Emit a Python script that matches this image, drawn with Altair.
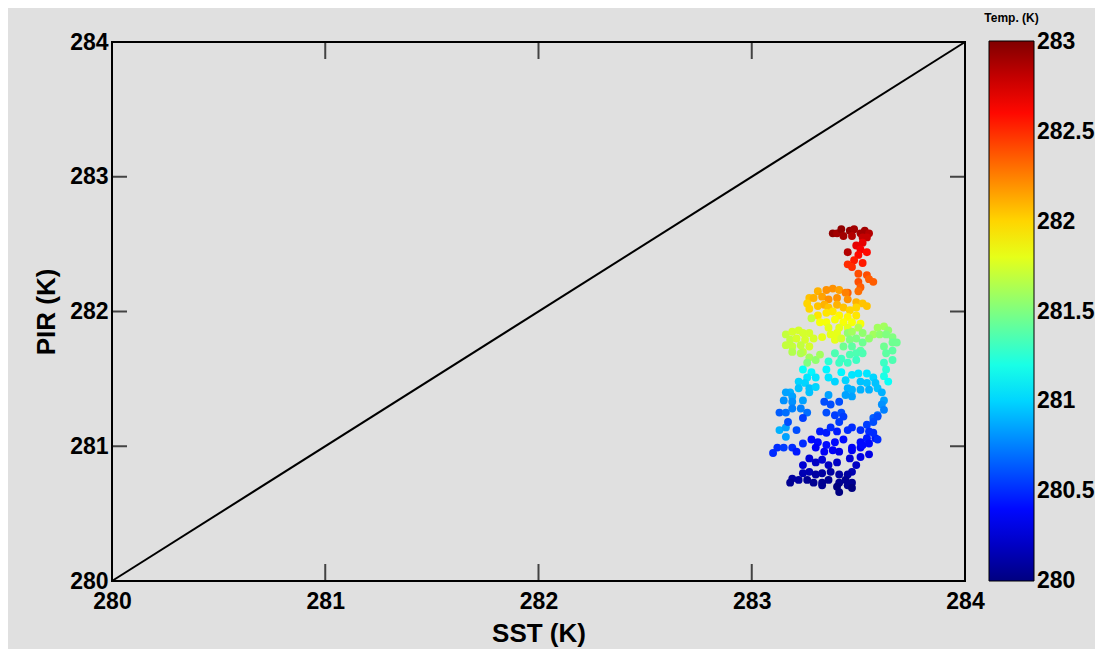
import altair as alt
import pandas as pd

# Scatter data (SST, PIR, colour temperature)
sst = [283.38, 283.40, 283.42, 283.43, 283.46, 283.48, 283.47, 283.51, 283.53, 283.55, 283.52, 283.54,
       283.49, 283.52, 283.51, 283.54, 283.50, 283.45, 283.48, 283.52, 283.45, 283.47,
       283.50, 283.54, 283.55, 283.57, 283.50, 283.51, 283.50, 283.45,
       283.38, 283.41, 283.35, 283.31, 283.27, 283.29, 283.33, 283.36, 283.40, 283.44, 283.45, 283.49, 283.52, 283.54,
       283.26, 283.27, 283.31, 283.34, 283.36, 283.40, 283.43, 283.46, 283.49,
       283.31, 283.35, 283.38, 283.41, 283.45, 283.49, 283.28,
       283.32, 283.35, 283.39, 283.43, 283.47, 283.51, 283.36, 283.41, 283.45, 283.33, 283.37, 283.40, 283.39, 283.42,
       283.16, 283.19, 283.22, 283.24, 283.27, 283.18, 283.21, 283.25, 283.29, 283.16, 283.19, 283.23, 283.27, 283.19, 283.24,
       283.45, 283.47, 283.50, 283.52, 283.46, 283.49, 283.52, 283.43, 283.47, 283.51,
       283.59, 283.62, 283.64, 283.57, 283.60, 283.63, 283.66, 283.66, 283.68, 283.62, 283.66, 283.55,
       283.23, 283.27, 283.30, 283.26, 283.32,
       283.39, 283.42, 283.46, 283.49, 283.52, 283.41, 283.45, 283.49, 283.36,
       283.63, 283.66, 283.62, 283.63, 283.62, 283.64,
       283.24, 283.28, 283.26, 283.30, 283.22, 283.25, 283.22, 283.27, 283.18, 283.16, 283.19, 283.15, 283.19, 283.24, 283.27, 283.30,
       283.35, 283.36, 283.39, 283.42, 283.44, 283.47, 283.50, 283.54, 283.57, 283.51, 283.54, 283.58,
       283.45, 283.47, 283.51, 283.55, 283.59, 283.61, 283.62, 283.44, 283.47, 283.36,
       283.13, 283.16, 283.19, 283.23, 283.26, 283.34, 283.37, 283.41, 283.35, 283.39, 283.42, 283.61, 283.62, 283.59, 283.57,
       283.13, 283.16, 283.16, 283.21, 283.24, 283.17,
       283.10, 283.12, 283.15, 283.19, 283.21, 283.24,
       283.32, 283.35, 283.37, 283.41, 283.43, 283.40, 283.45, 283.47, 283.51, 283.54, 283.57, 283.59, 283.55, 283.58, 283.54, 283.51, 283.47,
       283.28, 283.31, 283.35, 283.39, 283.43, 283.30, 283.34, 283.38, 283.41, 283.47, 283.51, 283.59, 283.57, 283.55,
       283.24, 283.27, 283.30, 283.33, 283.36, 283.40, 283.24, 283.27, 283.30, 283.33, 283.37, 283.41,
       283.19, 283.18, 283.22, 283.26, 283.29, 283.33, 283.36, 283.33,
       283.46, 283.49, 283.47, 283.45, 283.44, 283.41, 283.45, 283.47, 283.47, 283.41, 283.40, 283.51, 283.55, 283.52]
pir = [282.58, 282.58, 282.61, 282.56, 282.60, 282.61, 282.56, 282.58, 282.60, 282.58, 282.55, 282.55,
       282.49, 282.51, 282.46, 282.44, 282.42, 282.44, 282.38, 282.36, 282.35, 282.33,
       282.28, 282.27, 282.24, 282.22, 282.22, 282.18, 282.15, 282.14,
       282.17, 282.16, 282.16, 282.15, 282.10, 282.10, 282.11, 282.09, 282.10, 282.14, 282.09, 282.07, 282.06, 282.04,
       282.06, 282.02, 282.04, 282.05, 282.03, 282.05, 282.03, 282.01, 282.03,
       281.97, 281.99, 282.00, 281.97, 281.96, 281.97, 281.95,
       281.92, 281.92, 281.94, 281.92, 281.92, 281.91, 281.88, 281.88, 281.88, 281.81, 281.83, 281.84, 281.79, 281.80,
       281.83, 281.85, 281.86, 281.84, 281.84, 281.79, 281.80, 281.79, 281.80, 281.75, 281.74, 281.75, 281.74, 281.70, 281.70,
       281.84, 281.85, 281.88, 281.84, 281.79, 281.80, 281.77, 281.74, 281.74, 281.71,
       281.88, 281.89, 281.86, 281.83, 281.83, 281.83, 281.81, 281.77, 281.77, 281.74, 281.71, 281.80,
       281.69, 281.66, 281.64, 281.62, 281.68,
       281.69, 281.65, 281.68, 281.69, 281.69, 281.62, 281.62, 281.64, 281.63,
       281.69, 281.64, 281.62, 281.57, 281.52, 281.48,
       281.57, 281.55, 281.51, 281.51, 281.48, 281.47, 281.43, 281.43, 281.40, 281.40, 281.37, 281.34, 281.33, 281.34, 281.40, 281.44,
       281.57, 281.51, 281.48, 281.55, 281.49, 281.53, 281.54, 281.54, 281.51, 281.48, 281.47, 281.47,
       281.43, 281.42, 281.42, 281.42, 281.43, 281.40, 281.34, 281.38, 281.37, 281.38,
       281.25, 281.25, 281.28, 281.28, 281.25, 281.33, 281.31, 281.33, 281.25, 281.23, 281.25, 281.31, 281.27, 281.23, 281.21,
       281.12, 281.07, 281.14, 281.12, 281.21, 281.18,
       280.95, 280.99, 280.99, 280.99, 280.96, 281.02,
       281.11, 281.10, 281.14, 281.18, 281.22, 281.11, 281.12, 281.14, 281.12, 281.16, 281.18, 281.22, 281.11, 281.06, 281.06, 281.03, 280.99,
       281.05, 281.03, 281.01, 281.03, 281.05, 280.99, 280.96, 280.97, 280.96, 280.97, 280.99, 281.05, 281.10, 281.02,
       280.86, 280.91, 280.88, 280.90, 280.86, 280.88, 280.80, 280.81, 280.79, 280.80, 280.81, 280.79,
       280.76, 280.73, 280.75, 280.75, 280.73, 280.73, 280.75, 280.71,
       280.91, 280.86, 280.81, 280.79, 280.75, 280.73, 280.71, 280.73, 280.69, 280.66, 280.70, 280.92, 280.94, 281.01]
temp = [282.95, 282.9, 282.95, 282.9, 282.95, 282.9, 282.85, 282.9, 282.9, 282.85, 282.8, 282.8,
        282.7, 282.7, 282.65, 282.6, 282.6, 282.85, 282.55, 282.55, 282.5, 282.5,
        282.4, 282.4, 282.35, 282.35, 282.4, 282.35, 282.3, 282.35,
        282.2, 282.15, 282.2, 282.1, 282.05, 282.1, 282.15, 282.2, 282.2, 282.25, 282.2, 282.1, 282.05, 282.05,
        282.0, 282.0, 282.05, 282.1, 282.05, 282.1, 282.05, 282.0, 282.0,
        281.95, 281.95, 281.95, 281.9, 281.9, 281.95, 281.7,
        281.85, 281.85, 281.85, 281.85, 281.85, 281.85, 281.8, 281.8, 281.8, 281.8, 281.8, 281.8, 281.8, 281.75,
        281.7, 281.75, 281.75, 281.75, 281.75, 281.7, 281.75, 281.75, 281.75, 281.7, 281.7, 281.7, 281.75, 281.65, 281.7,
        281.55, 281.6, 281.65, 281.55, 281.5, 281.5, 281.45, 281.45, 281.4, 281.4,
        281.6, 281.6, 281.55, 281.6, 281.55, 281.5, 281.5, 281.45, 281.45, 281.45, 281.4, 281.55,
        281.65, 281.6, 281.55, 281.5, 281.6,
        281.35, 281.3, 281.35, 281.35, 281.35, 281.3, 281.3, 281.3, 281.25,
        281.4, 281.35, 281.3, 281.25, 281.2, 281.15,
        281.15, 281.1, 281.05, 281.05, 281.0, 281.0, 280.95, 280.95, 280.9, 280.85, 280.85, 280.8, 280.8, 280.85, 280.95, 281.0,
        281.1, 281.05, 281.0, 281.1, 281.0, 281.05, 281.05, 281.05, 281.0, 280.95, 280.95, 280.95,
        280.9, 280.9, 280.9, 280.9, 280.95, 280.9, 280.85, 280.85, 280.85, 280.85,
        280.65, 280.7, 280.75, 280.75, 280.7, 280.6, 280.6, 280.6, 280.6, 280.55, 280.6, 280.8, 280.75, 280.7, 280.65,
        280.9, 280.85, 280.85, 280.6, 280.55, 280.6,
        280.5, 280.5, 280.55, 280.5, 280.45, 280.5,
        280.45, 280.45, 280.5, 280.55, 280.55, 280.45, 280.5, 280.5, 280.5, 280.55, 280.6, 280.6, 280.5, 280.45, 280.45, 280.4, 280.35,
        280.4, 280.4, 280.4, 280.4, 280.4, 280.35, 280.35, 280.35, 280.3, 280.35, 280.35, 280.5, 280.5, 280.4,
        280.25, 280.25, 280.2, 280.25, 280.2, 280.2, 280.15, 280.15, 280.1, 280.1, 280.1, 280.1,
        280.1, 280.05, 280.1, 280.05, 280.05, 280.05, 280.05, 280.05,
        280.25, 280.2, 280.15, 280.1, 280.05, 280.05, 280.05, 280.05, 280.0, 280.0, 280.0, 280.3, 280.3, 280.4]

diag_x = [280, 284]
diag_y = [280, 284]
tick_vals = [281, 282, 283]
axis_vals = [280, 281, 282, 283, 284]
cbar_vals = [280, 280.5, 281, 281.5, 282, 282.5, 283]
cbar_labels = ["280", "280.5", "281", "281.5", "282", "282.5", "283"]
cbar_inner_ticks = [280.5, 281, 281.5, 282, 282.5]

# jet colormap stops
jet_domain = [280, 280.375, 281.125, 281.875, 282.625, 283]
jet_range = ["#000080", "#0000ff", "#00ffff", "#ffff00", "#ff0000", "#800000"]

W, H = 853, 539
CB_LEFT, CB_RIGHT = 877, 922   # colour bar edges, relative to plot origin
FONT = "Liberation Sans"
BG = "#e0e0e0"

pts = pd.DataFrame({"sst": sst, "pir": pir, "temp": temp})
diag = pd.DataFrame({"x": diag_x, "y": diag_y})
ticks = pd.DataFrame({"v": tick_vals})
cbar_df = pd.DataFrame({"v": cbar_vals, "label": cbar_labels})
cbar_tick_df = pd.DataFrame({"v": cbar_inner_ticks})

xscale = alt.Scale(domain=[280, 284], nice=False, zero=False)
yscale = alt.Scale(domain=[280, 284], nice=False, zero=False)
cscale = alt.Scale(domain=[280, 283], nice=False, zero=False)

xaxis = alt.Axis(values=axis_vals, format="d", title="SST (K)", ticks=False, domain=False, grid=False,
                 labelFlush=False, labelPadding=9, labelFontSize=23, labelFontWeight="bold",
                 labelColor="black", labelFont=FONT, titleFont=FONT, titleFontSize=26,
                 titleFontWeight="bold", titleColor="black", titlePadding=7)
yaxis = alt.Axis(values=axis_vals, format="d", title="PIR (K)", ticks=False, domain=False, grid=False,
                 labelFlush=False, labelPadding=4, labelFontSize=23, labelFontWeight="bold",
                 labelColor="black", labelFont=FONT, titleFont=FONT, titleFontSize=26,
                 titleFontWeight="bold", titleColor="black", titlePadding=10)

line = alt.Chart(diag).mark_line(color="black", strokeWidth=2).encode(
    x=alt.X("x:Q", scale=xscale, axis=xaxis),
    y=alt.Y("y:Q", scale=yscale, axis=yaxis),
)

points = alt.Chart(pts).mark_circle(size=62, opacity=1).encode(
    x=alt.X("sst:Q", scale=xscale),
    y=alt.Y("pir:Q", scale=yscale),
    color=alt.Color(
        "temp:Q",
        scale=alt.Scale(domain=jet_domain, range=jet_range, interpolate="rgb"),
        legend=alt.Legend(
            title=None, orient="none", legendX=CB_LEFT, legendY=-1, direction="vertical",
            gradientLength=540, gradientThickness=45, gradientStrokeColor="black",
            gradientStrokeWidth=1, values=cbar_vals, labelOpacity=0, labelFontSize=1,
        ),
    ),
)

xt_bottom = alt.Chart(ticks).mark_tick(color="black", thickness=2, size=17, yOffset=-8.5).encode(
    x=alt.X("v:Q", scale=xscale), y=alt.value(H))
xt_top = alt.Chart(ticks).mark_tick(color="black", thickness=2, size=17, yOffset=8.5).encode(
    x=alt.X("v:Q", scale=xscale), y=alt.value(0))
yt_left = alt.Chart(ticks).mark_tick(color="black", thickness=2, size=15, xOffset=7.5).encode(
    y=alt.Y("v:Q", scale=yscale), x=alt.value(0))
yt_right = alt.Chart(ticks).mark_tick(color="black", thickness=2, size=15, xOffset=-7.5).encode(
    y=alt.Y("v:Q", scale=yscale), x=alt.value(W))

main = alt.layer(line, points, xt_bottom, xt_top, yt_left, yt_right)

# colour bar labels and ticks on a scale of their own (280-283 over the full height)
cb_labels = alt.Chart(cbar_df).mark_text(
    font=FONT, fontSize=23, fontWeight="bold", color="black", align="left", baseline="middle", dx=3
).encode(y=alt.Y("v:Q", scale=cscale, axis=None), x=alt.value(CB_RIGHT), text="label:N")
cb_ticks_l = alt.Chart(cbar_tick_df).mark_tick(color="black", thickness=1, size=4, xOffset=2).encode(
    y=alt.Y("v:Q", scale=cscale, axis=None), x=alt.value(CB_LEFT))
cb_ticks_r = alt.Chart(cbar_tick_df).mark_tick(color="black", thickness=1, size=4, xOffset=-2).encode(
    y=alt.Y("v:Q", scale=cscale, axis=None), x=alt.value(CB_RIGHT))
cb_title = alt.Chart(pd.DataFrame({"t": ["Temp. (K)"]})).mark_text(
    font=FONT, fontSize=12, fontWeight="bold", color="black", align="center", baseline="middle"
).encode(text="t:N", x=alt.value((CB_LEFT + CB_RIGHT) / 2), y=alt.value(-24))
cbar = alt.layer(cb_ticks_l, cb_ticks_r, cb_labels, cb_title)

chart = alt.layer(main, cbar).resolve_scale(y="independent").properties(
    width=W, height=H,
    autosize=alt.AutoSizeParams(type="none"),
    padding={"left": 104, "top": 34, "right": 130, "bottom": 68},
    background=BG,
).configure_view(stroke="black", strokeWidth=2, fill=BG)

chart.save("out.html", embed_options={"renderer": "svg", "actions": False})
